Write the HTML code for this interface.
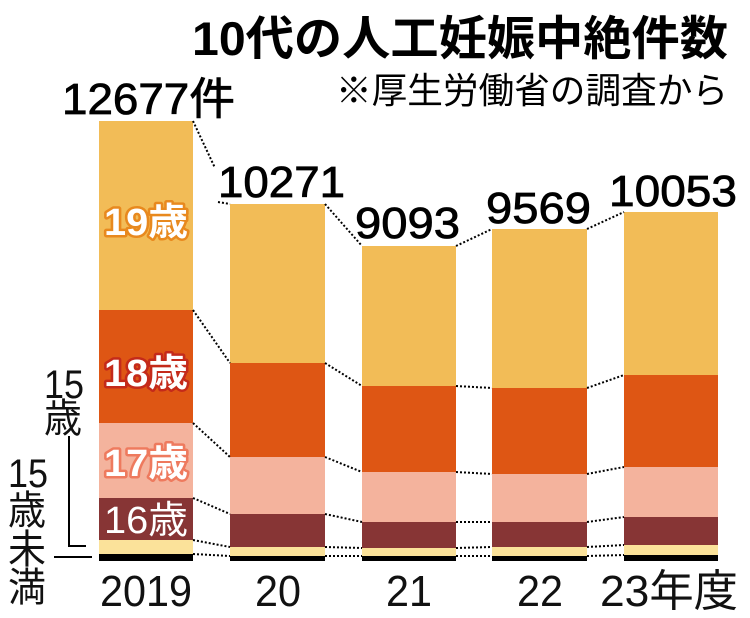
<!DOCTYPE html>
<html><head><meta charset="utf-8"><style>
html,body{margin:0;padding:0;background:#fff;}
svg{display:block;}
text{font-family:"Liberation Sans","Noto Sans CJK JP",sans-serif;}
</style></head><body>
<svg width="750" height="618" viewBox="0 0 750 618" xmlns="http://www.w3.org/2000/svg">
<text x="192" y="55" font-size="47" font-weight="bold" textLength="536" lengthAdjust="spacingAndGlyphs">10代の人工妊娠中絶件数</text>
<text x="336" y="103" font-size="36" textLength="392" lengthAdjust="spacingAndGlyphs">※厚生労働省の調査から</text>
<g stroke="#000" stroke-width="0.8">
<text x="62" y="114" font-size="44" textLength="173" lengthAdjust="spacingAndGlyphs">12677件</text>
<text x="218" y="197" font-size="44" textLength="127" lengthAdjust="spacingAndGlyphs">10271</text>
<text x="355" y="238" font-size="44" textLength="105" lengthAdjust="spacingAndGlyphs">9093</text>
<text x="486" y="223" font-size="44" textLength="105" lengthAdjust="spacingAndGlyphs">9569</text>
<text x="609" y="206" font-size="44" textLength="128" lengthAdjust="spacingAndGlyphs">10053</text>
</g>

<g>
<rect x="99" y="121" width="94" height="189" fill="#F2BC57"/>
<rect x="99" y="310" width="94" height="113" fill="#DE5614"/>
<rect x="99" y="423" width="94" height="75" fill="#F4B39D"/>
<rect x="99" y="498" width="94" height="42" fill="#873535"/>
<rect x="99" y="540" width="94" height="14" fill="#FBE29A"/>
<rect x="99" y="554" width="94" height="7" fill="#000"/>

<rect x="230" y="204" width="95" height="159" fill="#F2BC57"/>
<rect x="230" y="363" width="95" height="94" fill="#DE5614"/>
<rect x="230" y="457" width="95" height="57" fill="#F4B39D"/>
<rect x="230" y="514" width="95" height="33" fill="#873535"/>
<rect x="230" y="547" width="95" height="9" fill="#FBE29A"/>
<rect x="230" y="556" width="95" height="5" fill="#000"/>

<rect x="362" y="246" width="94" height="140" fill="#F2BC57"/>
<rect x="362" y="386" width="94" height="86" fill="#DE5614"/>
<rect x="362" y="472" width="94" height="50" fill="#F4B39D"/>
<rect x="362" y="522" width="94" height="26" fill="#873535"/>
<rect x="362" y="548" width="94" height="8" fill="#FBE29A"/>
<rect x="362" y="556" width="94" height="5" fill="#000"/>

<rect x="492" y="229" width="95" height="159" fill="#F2BC57"/>
<rect x="492" y="388" width="95" height="86" fill="#DE5614"/>
<rect x="492" y="474" width="95" height="48" fill="#F4B39D"/>
<rect x="492" y="522" width="95" height="25" fill="#873535"/>
<rect x="492" y="547" width="95" height="9" fill="#FBE29A"/>
<rect x="492" y="556" width="95" height="5" fill="#000"/>

<rect x="624" y="212" width="94" height="163" fill="#F2BC57"/>
<rect x="624" y="375" width="94" height="92" fill="#DE5614"/>
<rect x="624" y="467" width="94" height="50" fill="#F4B39D"/>
<rect x="624" y="517" width="94" height="28" fill="#873535"/>
<rect x="624" y="545" width="94" height="10" fill="#FBE29A"/>
<rect x="624" y="555" width="94" height="6" fill="#000"/>
</g>

<g stroke="#000" stroke-width="2" stroke-dasharray="2,2" fill="none">
<path d="M193 121 L215 168 M218 202 L230 204"/>
<path d="M193 310 L230 363 M193 423 L230 457 M193 498 L230 514 M193 540 L230 547 M193 554 L230 556"/>
<path d="M325 204 L362 246 M325 363 L362 386 M325 457 L362 472 M325 514 L362 522 M325 547 L362 548 M325 556 L362 556"/>
<path d="M456 246 L492 229 M456 386 L492 388 M456 472 L492 474 M456 522 L492 522 M456 548 L492 547 M456 556 L492 556"/>
<path d="M587 229 L624 212 M587 388 L624 375 M587 474 L624 467 M587 522 L624 517 M587 547 L624 545 M587 556 L624 555"/>
</g>

<g font-size="38" font-weight="bold" fill="#fff" stroke-linejoin="round" style="paint-order:stroke">
<text x="104" y="235" stroke="#E8891E" stroke-width="5" textLength="84" lengthAdjust="spacingAndGlyphs">19歳</text>
<text x="104" y="386" stroke="#C42A1A" stroke-width="5" textLength="84" lengthAdjust="spacingAndGlyphs">18歳</text>
<text x="104" y="476" stroke="#EE7A5E" stroke-width="5" textLength="84" lengthAdjust="spacingAndGlyphs">17歳</text>
<text x="104" y="533" stroke="#873535" stroke-width="2" font-weight="normal" textLength="84" lengthAdjust="spacingAndGlyphs">16歳</text>
</g>

<g font-size="40" fill="#111">
<text x="44" y="398" textLength="40" lengthAdjust="spacingAndGlyphs">15</text>
<text x="44" y="432" textLength="38" lengthAdjust="spacingAndGlyphs">歳</text>
<text x="8" y="487" textLength="40" lengthAdjust="spacingAndGlyphs">15</text>
<text x="8" y="524" textLength="38" lengthAdjust="spacingAndGlyphs">歳</text>
<text x="8" y="563" textLength="38" lengthAdjust="spacingAndGlyphs">未</text>
<text x="8" y="601" textLength="38" lengthAdjust="spacingAndGlyphs">満</text>
</g>
<path d="M69 436 V546 H86" stroke="#000" stroke-width="2" fill="none"/>
<path d="M54 557 H92" stroke="#000" stroke-width="2" fill="none"/>

<g font-size="44" fill="#111">
<text x="100" y="606" textLength="92" lengthAdjust="spacingAndGlyphs">2019</text>
<text x="255" y="606" textLength="46" lengthAdjust="spacingAndGlyphs">20</text>
<text x="386" y="606" textLength="46" lengthAdjust="spacingAndGlyphs">21</text>
<text x="517" y="606" textLength="46" lengthAdjust="spacingAndGlyphs">22</text>
<text x="600" y="606" textLength="138" lengthAdjust="spacingAndGlyphs">23年度</text>
</g>
</svg>
</body></html>
